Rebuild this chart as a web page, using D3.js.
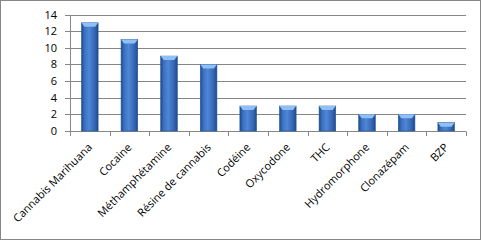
<!DOCTYPE html>
<html>
<head>
<meta charset="utf-8">
<script src="https://cdn.jsdelivr.net/npm/d3@7"></script>
<style>
  body { margin: 0; background: #fff; }
  svg { display: block; }
  text { font-family: "Open Sans", "DejaVu Sans", sans-serif; fill: #000; }
</style>
</head>
<body>
<svg id="chart" width="481" height="240"></svg>
<script>
const categories = ["Cannabis Marihuana", "Cocaine", "Méthamphétamine", "Résine de cannabis",
  "Codéine", "Oxycodone", "THC", "Hydromorphone", "Clonazépam", "BZP"];
const values = [13, 11, 9, 8, 3, 3, 3, 2, 2, 1];
const yTicks = [0, 2, 4, 6, 8, 10, 12, 14];

const svg = d3.select("#chart");
const plotLeft = 70, plotRight = 466, plotTop = 14.5, plotBottom = 131;

// outer frame
svg.append("rect").attr("x", 0.5).attr("y", 0.5).attr("width", 480).attr("height", 239)
  .attr("fill", "#fff").attr("stroke", "#868686");

const x = d3.scaleBand().domain(categories).range([plotLeft, plotRight]).paddingInner(0.58).paddingOuter(0.29);
const y = d3.scaleLinear().domain([0, 14]).range([plotBottom, plotTop]);

const defs = svg.append("defs");
const g = defs.append("linearGradient").attr("id", "barGrad").attr("x1", 0).attr("x2", 1).attr("y1", 0).attr("y2", 0);
g.append("stop").attr("offset", "0%").attr("stop-color", "#1d4a8c");
g.append("stop").attr("offset", "18%").attr("stop-color", "#3a70c0");
g.append("stop").attr("offset", "45%").attr("stop-color", "#4f86d6");
g.append("stop").attr("offset", "80%").attr("stop-color", "#3466b3");
g.append("stop").attr("offset", "100%").attr("stop-color", "#1d4a8c");

// gridlines
svg.append("g").selectAll("line").data(yTicks).join("line")
  .attr("x1", plotLeft - 5).attr("x2", plotRight)
  .attr("y1", d => Math.round(y(d)) + 0.5).attr("y2", d => Math.round(y(d)) + 0.5)
  .attr("stroke", "#868686").attr("stroke-width", 1);

// y axis line
svg.append("line").attr("x1", plotLeft + 0.5).attr("x2", plotLeft + 0.5)
  .attr("y1", Math.round(y(14)) + 0.5).attr("y2", Math.round(y(0)) + 0.5)
  .attr("stroke", "#868686");

// x ticks
const edges = categories.map(c => x(c) - x.step() * x.paddingInner() / 2);
edges.push(plotRight);
svg.append("g").selectAll("line").data(edges).join("line")
  .attr("x1", d => Math.round(d) + 0.5).attr("x2", d => Math.round(d) + 0.5)
  .attr("y1", Math.round(y(0)) + 0.5).attr("y2", Math.round(y(0)) + 5)
  .attr("stroke", "#868686");

// y tick labels
svg.append("g").selectAll("text").data(yTicks).join("text")
  .attr("x", 57).attr("y", d => y(d) + 4)
  .attr("text-anchor", "end").attr("font-size", 11).text(d => d);

// bars
const bars = svg.append("g").selectAll("g").data(categories).join("g");
bars.append("rect")
  .attr("x", d => x(d)).attr("width", x.bandwidth())
  .attr("y", (d, i) => y(values[i])).attr("height", (d, i) => y(0) - y(values[i]))
  .attr("fill", "url(#barGrad)").attr("stroke", "#2b5797").attr("stroke-width", 0.6);
bars.append("path")
  .attr("d", (d, i) => {
    const x0 = x(d), w = x.bandwidth(), yy = y(values[i]);
    return `M${x0},${yy}L${x0 + w},${yy}L${x0 + w - 3},${yy + 4}L${x0 + 3},${yy + 4}Z`;
  })
  .attr("fill", "#8ec0f5");

// category labels
svg.append("g").selectAll("text").data(categories).join("text")
  .attr("transform", d => `translate(${x(d) + x.bandwidth() / 2 + 3},${plotBottom + 17}) rotate(-45)`)
  .attr("text-anchor", "end").attr("font-size", 11).text(d => d);
</script>
</body>
</html>
